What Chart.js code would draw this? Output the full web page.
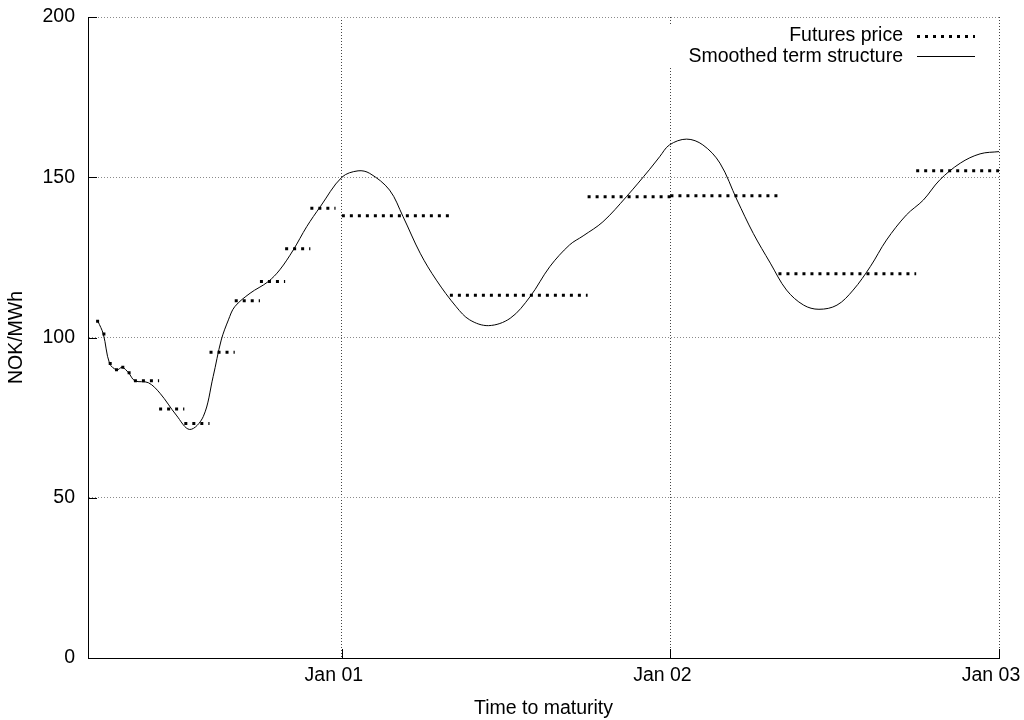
<!DOCTYPE html>
<html>
<head>
<meta charset="utf-8">
<script src="https://cdn.jsdelivr.net/npm/chart.js@4/dist/chart.umd.min.js"></script>
<style>
  body { margin: 0; background: #fff; }
  canvas { display: block; }
</style>
</head>
<body>
<canvas id="chart" width="1024" height="720"></canvas>
<script>
// x is days relative to 1 Jan 2001
const tickDays = [0, 365, 730];
const tickLabels = ['Jan 01', 'Jan 02', 'Jan 03'];

// weekly contracts (7 days each)
const weekStarts = [-273, -266, -259, -252, -245, -238];
const weekValues = [105.1, 101.1, 91.9, 89.9, 90.7, 89.0];

// 4-week block contracts (28 days each)
const blockStarts = [-231, -203, -175, -147, -119, -91, -63, -35];
const blockValues = [86.5, 77.7, 73.2, 95.4, 111.5, 117.5, 127.7, 140.3];

// seasonal contracts
const seasonStarts = [0, 120, 273, 365, 485, 638];
const seasonEnds = [120, 273, 365, 485, 638, 730];
const seasonValues = [138.0, 113.2, 143.9, 144.2, 119.9, 152.0];

// smoothed term structure
const curveDays = [-271, -265, -258, -250, -244, -237, -230, -215, -202, -184, -169, -154,
  -143, -134, -126, -119, -102, -82, -69, -54, -39, -24, 0, 18, 31, 53, 68, 87, 105,
  127, 142, 163, 187, 209, 231, 253, 268, 290, 316, 342, 353, 364, 383, 401, 420, 439,
  457, 476, 494, 513, 530, 550, 568, 587, 605, 627, 646, 664, 687, 709, 730];
const curveValues = [105.1, 101.1, 91.9, 89.9, 90.7, 89.0, 86.5, 85.9, 82.6, 75.8, 71.3, 75.3,
  87.8, 99.2, 105.5, 109.6, 113.8, 117.4, 121.1, 127.3, 134.6, 140.8, 150.0, 152.0, 151.2,
  146.0, 137.7, 126.3, 117.9, 109.6, 105.5, 103.7, 106.0, 112.7, 122.1, 128.9, 131.7, 136.1,
  143.9, 152.5, 156.4, 160.1, 161.9, 160.1, 154.4, 142.9, 132.5, 123.2, 114.8, 110.1, 108.8,
  110.1, 114.8, 122.1, 130.4, 138.2, 142.9, 149.1, 154.4, 157.3, 158.0];

const FONT = 'Liberation Sans, Arial, Helvetica, sans-serif';
const FSIZE = 19.5;

// build the step segments, with a gap point after each one
const futures = [];
function addSegment(a, b, v) {
  futures.push({x: a, y: v}, {x: b, y: v}, {x: b, y: null});
}
weekStarts.forEach((s, i) => addSegment(s, s + 7, weekValues[i]));
blockStarts.forEach((s, i) => addSegment(s, s + 28, blockValues[i]));
seasonStarts.forEach((s, i) => addSegment(s, seasonEnds[i], seasonValues[i]));

const curve = curveDays.map((d, i) => ({x: d, y: curveValues[i]}));

// inward ticks + key box like gnuplot
const extras = {
  id: 'extras',
  afterDraw(chart) {
    const ctx = chart.ctx;
    const xs = chart.scales.x, ys = chart.scales.y;
    const area = chart.chartArea;
    ctx.save();
    ctx.strokeStyle = '#000';
    ctx.lineWidth = 1;
    ctx.beginPath();
    [0, 50, 100, 150, 200].forEach(v => {
      const y = Math.round(ys.getPixelForValue(v)) + 0.5;
      ctx.moveTo(area.left, y);
      ctx.lineTo(area.left + 9, y);
    });
    tickDays.forEach(d => {
      const x = Math.round(xs.getPixelForValue(d)) + 0.5;
      ctx.moveTo(x, area.bottom);
      ctx.lineTo(x, area.bottom - 9);
    });
    ctx.stroke();

    // key
    ctx.fillStyle = '#fff';
    ctx.fillRect(662, 24, 322, 43);
    ctx.fillStyle = '#000';
    ctx.font = FSIZE + 'px ' + FONT;
    ctx.textAlign = 'right';
    ctx.textBaseline = 'middle';
    ctx.fillText('Futures price', 903, 36);
    ctx.fillText('Smoothed term structure', 903, 57);
    ctx.beginPath();
    ctx.lineWidth = 3;
    ctx.setLineDash([3, 5]);
    ctx.moveTo(917, 36.5);
    ctx.lineTo(975, 36.5);
    ctx.stroke();
    ctx.beginPath();
    ctx.lineWidth = 1;
    ctx.setLineDash([]);
    ctx.moveTo(917, 56.5);
    ctx.lineTo(975, 56.5);
    ctx.stroke();
    ctx.restore();
  }
};

new Chart(document.getElementById('chart'), {
  type: 'line',
  data: {
    datasets: [
      {
        label: 'Futures price',
        data: futures,
        borderColor: '#000',
        borderWidth: 3,
        borderDash: [3, 5],
        borderCapStyle: 'butt',
        pointRadius: 0,
        spanGaps: false,
        tension: 0,
      },
      {
        label: 'Smoothed term structure',
        data: curve,
        borderColor: '#000',
        borderWidth: 1,
        pointRadius: 0,
        tension: 0.35,
      },
    ],
  },
  options: {
    responsive: false,
    animation: false,
    layout: { padding: { top: 17, right: 25, left: 0, bottom: 0 } },
    plugins: { legend: { display: false }, tooltip: { enabled: false } },
    scales: {
      x: {
        type: 'linear',
        min: -282,
        max: 730,
        afterBuildTicks: (scale) => { scale.ticks = tickDays.map(v => ({value: v})); },
        afterFit: (scale) => { scale.height = 62; scale.paddingLeft = 0; scale.paddingRight = 0; },
        ticks: {
          callback: (v) => tickLabels[tickDays.indexOf(v)],
          color: '#000',
          font: { family: FONT, size: FSIZE },
          padding: 6,
          maxRotation: 0,
          labelOffset: -8,
        },
        grid: { color: '#444', drawTicks: false, lineWidth: 1 },
        border: { color: '#000', width: 1, dash: [1, 2] },
        title: {
          display: true,
          text: 'Time to maturity',
          color: '#000',
          font: { family: FONT, size: FSIZE },
          padding: { top: 0, bottom: 0 },
        },
      },
      y: {
        min: 0,
        max: 200,
        afterFit: (scale) => { scale.width = 88; scale.paddingTop = 0; scale.paddingBottom = 0; },
        ticks: {
          stepSize: 50,
          color: '#000',
          font: { family: FONT, size: FSIZE },
          padding: 13,
        },
        grid: { color: '#8a8a8a', drawTicks: false, lineWidth: 1 },
        border: { color: '#000', width: 1, dash: [1, 2] },
        title: {
          display: true,
          text: 'NOK/MWh',
          color: '#000',
          font: { family: FONT, size: FSIZE },
          padding: { top: 5, bottom: 0 },
        },
      },
    },
  },
  plugins: [extras],
});
</script>
</body>
</html>
